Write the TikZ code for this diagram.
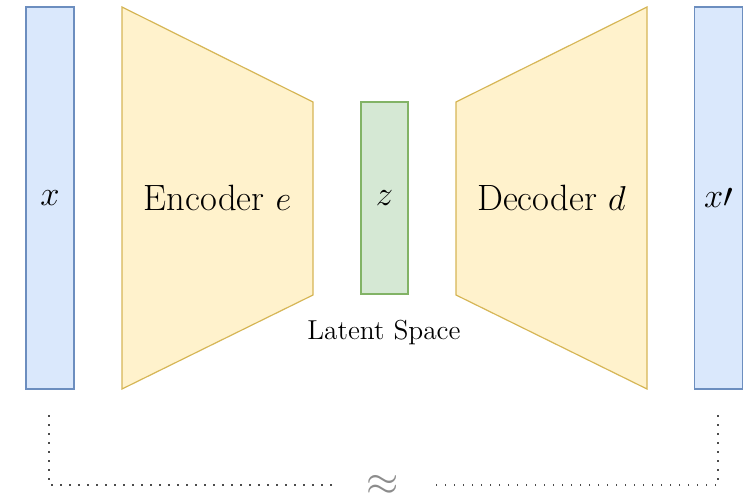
\documentclass[tikz,border=0pt]{standalone}
\usepackage{amsmath,amssymb}
\usepackage{xcolor}
\usetikzlibrary{positioning}

\definecolor{vecfill}{HTML}{DAE8FC}
\definecolor{vecline}{HTML}{6C8EBF}
\definecolor{codfill}{HTML}{FFF2CC}
\definecolor{codline}{HTML}{D6B656}
\definecolor{latfill}{HTML}{D5E8D4}
\definecolor{latline}{HTML}{82B366}

\begin{document}
\begin{tikzpicture}[x=0.5pt,y=-0.5pt,
  vecbox/.style={draw=vecline,fill=vecfill,line width=0.6pt,
    minimum width=24pt,minimum height=191pt,inner sep=0pt},
  latbox/.style={draw=latline,fill=latfill,line width=0.6pt,
    minimum width=23.5pt,minimum height=96pt,inner sep=0pt},
  coder/.style={draw=codline,fill=codfill,line width=0.6pt},
  big/.style={font=\fontsize{18.3}{22}\selectfont},
  dots/.style={draw=black!70,line width=0.8pt,dash pattern=on 0.75pt off 3.75pt}]
  \useasboundingbox (0,0) rectangle (749,496);
  % input, latent code and output
  \node[vecbox,big] (x) at (50,198) {$x$};
  \node[latbox,big] (z) at (384.5,198) {$z$};
  \node[vecbox,big] (xp) at (718.5,198) {$x\prime$};
  % encoder and decoder
  \draw[coder] (122,7) -- (313,102) -- (313,295) -- (122,389) -- cycle;
  \node[big] (enc) at (217.5,198) {Encoder $e$};
  \draw[coder] (456,102) -- (647,7) -- (647,389) -- (456,295) -- cycle;
  \node[big] (dec) at (551.5,198) {Decoder $d$};
  \node[font=\fontsize{13.7}{16}\selectfont] (lat) at (384,333) {Latent Space};
  % reconstruction
  \node[text=black!45,minimum width=47pt,inner sep=0pt] (approx) at (383,485) {\huge $\approx$};
  \coordinate (xbot) at (49,415);
  \coordinate (xpbot) at (718,415);
  \draw[dots] (xbot) |- (approx.west);
  \draw[dots] (xpbot) |- (approx.east);
\end{tikzpicture}
\end{document}
